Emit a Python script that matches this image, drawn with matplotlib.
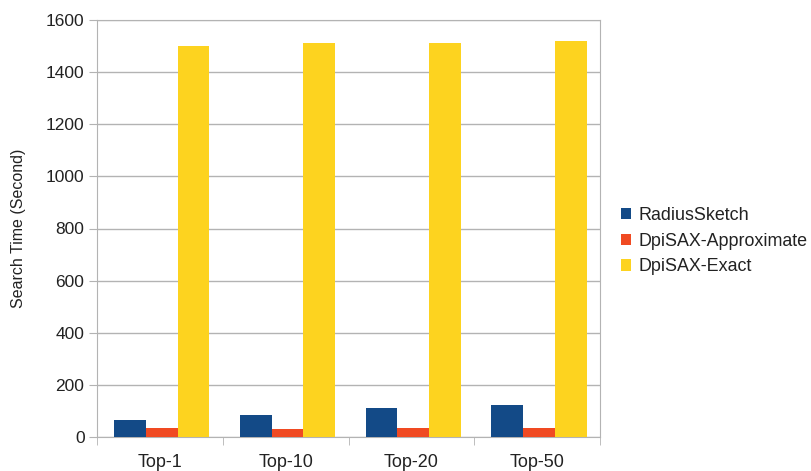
import numpy as np
import matplotlib.pyplot as plt

plt.rcParams['font.family'] = ['Liberation Sans', 'DejaVu Sans']

categories = ["Top-1", "Top-10", "Top-20", "Top-50"]
series_names = ["RadiusSketch", "DpiSAX-Approximate", "DpiSAX-Exact"]
radius_sketch = [64, 84, 111, 122]
dpisax_approx = [34, 30, 34, 34]
dpisax_exact = [1500, 1512, 1512, 1520]
colors = ["#134a87", "#f04a22", "#fdd31f"]

fig = plt.figure(figsize=(8.11, 4.71), dpi=100)
ax = fig.add_axes([97 / 811, 34 / 471, 503 / 811, 417 / 471])

x = np.arange(len(categories))
w = 0.253
for i, (vals, name) in enumerate(zip([radius_sketch, dpisax_approx, dpisax_exact], series_names)):
    ax.bar(x + (i - 1) * w + 0.015, vals, w, color=colors[i], label=name, zorder=3)

ax.set_xlim(-0.5, len(categories) - 0.5)
ax.set_ylim(0, 1600)
ax.set_yticks(range(0, 1601, 200))
ax.tick_params(axis='y', length=6, color="#b3b3b3", labelsize=12.5, pad=3,
               labelcolor="#222222")
ax.set_xticks(x)
ax.set_xticklabels(categories, fontsize=13, color="#222222")
ax.tick_params(axis='x', length=0, pad=12)
ax.set_xticks(np.arange(-0.5, len(categories), 1), minor=True)
ax.tick_params(axis='x', which='minor', length=6, color="#b3b3b3")
ax.grid(axis='y', color="#b3b3b3", linewidth=1, zorder=0)
for s in ax.spines.values():
    s.set_color("#b3b3b3")
ax.set_ylabel("Search Time (Second)", fontsize=11.5, labelpad=14, color="#222222")

ax.legend(loc='center left', bbox_to_anchor=(1.027, 0.47), frameon=False,
          fontsize=12.9, handlelength=0.6, handleheight=0.6, handletextpad=0.4,
          labelspacing=0.5, borderaxespad=0, labelcolor="#222222")

fig.savefig("out.png", dpi=100)
